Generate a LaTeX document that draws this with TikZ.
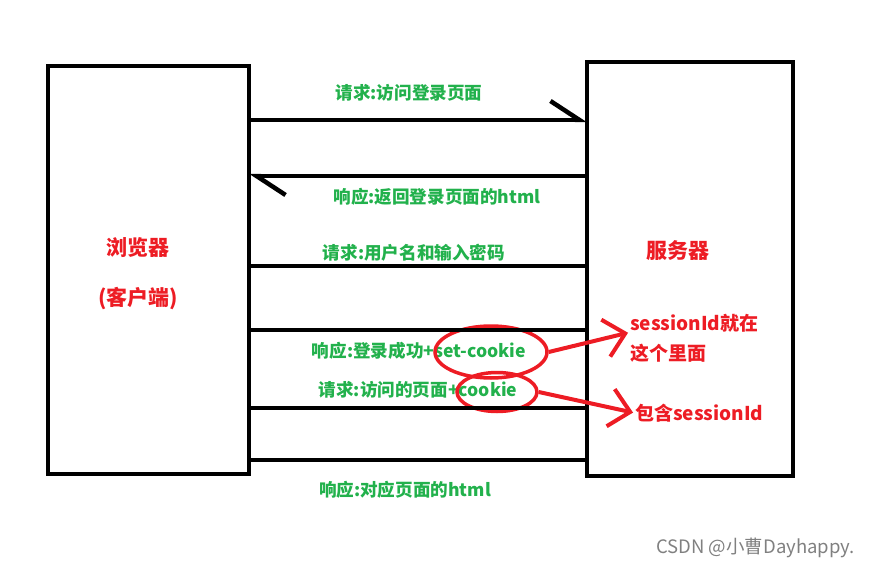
\documentclass[tikz,border=0pt]{standalone}
\usepackage{fontspec}
\newfontfamily\cjk{Noto Sans CJK SC}
\usetikzlibrary{shapes.geometric, arrows.meta, positioning}
\definecolor{paintgreen}{RGB}{34,177,76}
\definecolor{paintred}{RGB}{237,28,36}
\tikzstyle{side} = [rectangle, draw=black, line width=4.5pt, inner sep=0pt, outer sep=0pt]
\tikzstyle{msg} = [text=paintgreen, inner sep=0pt, font=\cjk\bfseries\fontsize{17.6}{20}\selectfont]
\tikzstyle{role} = [text=paintred, inner sep=0pt, font=\cjk\bfseries\fontsize{21}{24}\selectfont]
\tikzstyle{note} = [text=paintred, inner sep=0pt, anchor=west, font=\cjk\bfseries\fontsize{19}{22}\selectfont]
\tikzstyle{ring} = [ellipse, draw=paintred, line width=3.5pt, inner sep=0pt]
\tikzstyle{line} = [line width=4.5pt]
\tikzstyle{arrow} = [line width=4.5pt, -{Straight Barb[harpoon, length=29pt, width=38pt]}]
\tikzstyle{redarrow} = [draw=paintred, line width=4pt, -{Straight Barb[length=20pt, width=38pt]}, shorten >=2pt]

\begin{document}
\begin{tikzpicture}[x=1pt, y=-1pt]
\useasboundingbox (0,0) rectangle (870,567);

\node (browser) [side, minimum width=201pt, minimum height=408pt] at (148.5,270) {};
\node (server) [side, minimum width=206pt, minimum height=414pt] at (690,269) {};
\node (bname) [role] at (138,248) {浏览器};
\node (bsub) [role, below=29pt of bname] {(客户端)};
\node (sname) [role] at (678,251) {服务器};

\coordinate (y1) at (0,120);
\coordinate (y2) at (0,176);
\coordinate (y3) at (0,266);
\coordinate (y4) at (0,330);
\coordinate (y5) at (0,408);
\coordinate (y6) at (0,460);

\node (m1) [msg] at (409,93) {请求:访问登录页面};
\node (m2) [msg] at (437,197) {响应:返回登录页面的html};
\node (m3) [msg] at (414,253) {请求:用户名和输入密码};
\node (m4) [msg] at (419,351) {响应:登录成功+set-cookie};
\node (m5) [msg] at (418,390) {请求:访问的页面+cookie};
\node (m6) [msg] at (405,490) {响应:对应页面的html};

\node (ck1) [ring, minimum width=112pt, minimum height=52pt] at (491,352) {};
\node (ck2) [ring, minimum width=80pt, minimum height=39pt] at (497,392) {};

\node (n1) [note] at (630,323) {sessionId就在};
\node (n2) [note, below=12pt of n1.south west, anchor=north west] {这个里面};
\node (n3) [note] at (635,413) {包含sessionId};

\node (mark) [text=black!50, inner sep=0pt, anchor=east, font=\cjk\fontsize{18.5}{20}\selectfont] at (855,548) {CSDN @小曹Dayhappy.};

\draw [arrow] (browser.east |- y1) -- (server.west |- y1);
\draw [arrow] (server.west |- y2) -- (browser.east |- y2);
\draw [line] (browser.east |- y3) -- (server.west |- y3);
\draw [line] (browser.east |- y4) -- (server.west |- y4);
\draw [line] (browser.east |- y5) -- (server.west |- y5);
\draw [line] (browser.east |- y6) -- (server.west |- y6);
\draw [redarrow] (ck1.east) -- (n1.south west);
\draw [redarrow] (ck2.east) -- (n3.west);

\end{tikzpicture}
\end{document}
